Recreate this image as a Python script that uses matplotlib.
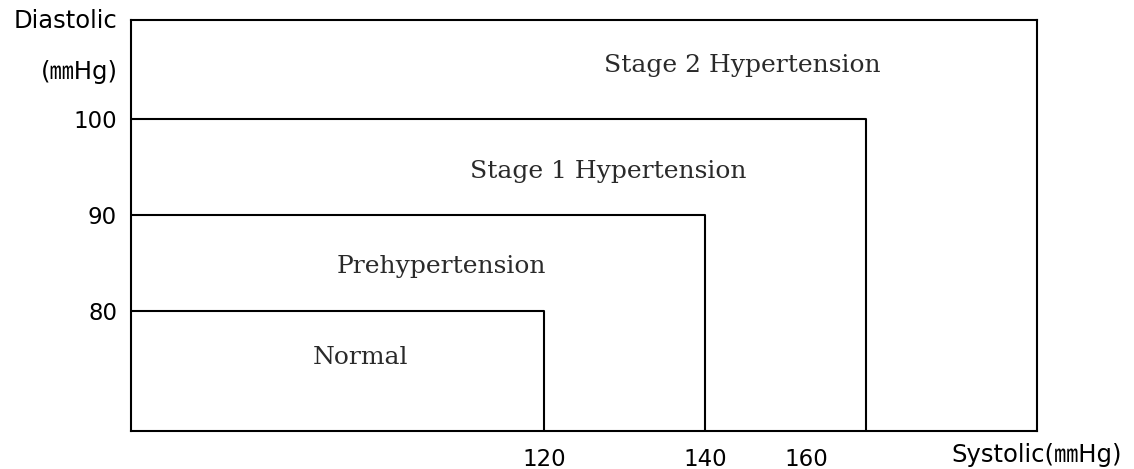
import matplotlib.pyplot as plt

# blood pressure categories: upper systolic / diastolic bound of each zone
categories = ["Normal", "Prehypertension", "Stage 1 Hypertension", "Stage 2 Hypertension"]
systolic_limits = [120, 140, 160]
diastolic_limits = [80, 90, 100]
y_ticks = [80, 90, 100]
x_tick_labels = ["120", "140", "160"]

sans = ["DejaVu Sans", "Noto Sans CJK KR"]
serif = "DejaVu Serif"

fig = plt.figure(figsize=(11.34, 4.69), dpi=100)
ax = fig.add_axes([131 / 1134, 38 / 469, 906 / 1134, 411 / 469])

xmin, xmax = 68.7, 181.2
ymin, ymax = 67.5, 110.3
ax.set_xlim(xmin, xmax)
ax.set_ylim(ymin, ymax)

for s, d in zip(systolic_limits, diastolic_limits):
    ax.plot([xmin, s, s], [d, d, ymin], color="black", linewidth=1.5)

# label positions in axes fraction
label_pos = [(0.253, 0.179), (0.343, 0.401), (0.527, 0.631), (0.675, 0.890)]
for name, (lx, ly) in zip(categories, label_pos):
    ax.text(lx, ly, name, transform=ax.transAxes, ha="center", va="center",
            fontsize=18, family=serif, color="#2a2a2a")

ax.set_yticks(y_ticks)
ax.set_yticklabels([str(v) for v in y_ticks], fontsize=16.5, family=sans)
# the 160 label sits left of its line in the original
ax.set_xticks([120, 140, 152.6])
ax.set_xticklabels(x_tick_labels, fontsize=16.5, family=sans)
ax.tick_params(axis="y", length=0, pad=10)
ax.tick_params(axis="x", length=0, pad=12)

for sp in ax.spines.values():
    sp.set_linewidth(1.5)

fig.text(117 / 1134, 1 - 21 / 469, "Diastolic", ha="right", va="center",
         fontsize=17.5, family=sans)
fig.text(118 / 1134, 1 - 72 / 469, "(㎜Hg)", ha="right", va="center",
         fontsize=17.5, family=sans)
fig.text(1122 / 1134, 1 - 455 / 469, "Systolic(㎜Hg)", ha="right", va="center",
         fontsize=17.5, family=sans)

fig.savefig("out.png", dpi=100)
